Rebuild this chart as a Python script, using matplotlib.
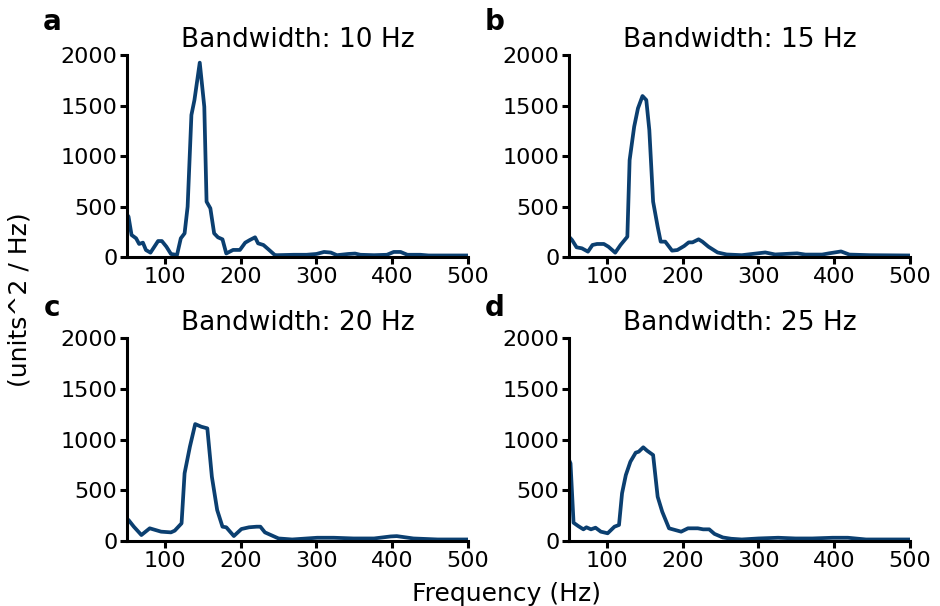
import matplotlib
matplotlib.use("Agg")
import matplotlib.pyplot as plt

# ---------------- data ----------------
titles = ["Bandwidth: 10 Hz", "Bandwidth: 15 Hz", "Bandwidth: 20 Hz", "Bandwidth: 25 Hz"]
panel_letters = ["a", "b", "c", "d"]

freq_a = [50, 52, 56, 62, 66, 71, 75, 81, 91, 96, 102, 108, 116, 121, 126, 130, 135, 139, 146,
          152, 155, 160, 165, 170, 176, 181, 190, 199, 206, 212, 219, 223, 230, 236, 245,
          248, 270, 287, 300, 310, 319, 327, 342, 351, 358, 376, 393, 402, 411, 420, 437, 448, 468, 500]
power_a = [420, 400, 218, 185, 129, 142, 69, 43, 158, 158, 102, 30, 20, 185, 234, 498, 1406, 1554, 1924,
           1488, 548, 482, 234, 195, 175, 35, 70, 70, 142, 168, 195, 135, 119, 80, 20,
           18, 22, 22, 30, 50, 44, 18, 30, 34, 22, 18, 22, 50, 50, 22, 22, 15, 15, 15]

freq_b = [50, 54, 60, 67, 75, 81, 87, 96, 102, 111, 118, 127, 130, 136, 141, 147, 152, 156, 161,
          167, 171, 177, 186, 193, 202, 208, 213, 221, 226, 234, 246, 258, 278, 309, 322, 340,
          351, 362, 384, 393, 409, 420, 447, 500]
power_b = [201, 168, 96, 86, 53, 119, 129, 129, 102, 43, 119, 201, 960, 1290, 1472, 1594, 1554, 1257, 548,
           300, 152, 152, 63, 69, 109, 145, 145, 175, 152, 102, 45, 25, 18, 45, 25, 32,
           36, 24, 24, 36, 55, 24, 18, 15]

freq_c = [50, 52, 59, 69, 80, 95, 108, 113, 122, 126, 133, 140, 148, 156, 162, 169, 176, 181,
          191, 201, 211, 221, 226, 232, 241, 250, 268, 301, 323, 349, 376, 398, 406, 428, 460, 500]
power_c = [215, 207, 141, 59, 125, 92, 85, 102, 174, 667, 929, 1152, 1126, 1110, 633, 305, 141, 135,
           49, 118, 135, 141, 141, 85, 55, 25, 15, 32, 32, 25, 25, 45, 48, 25, 15, 15]

freq_d = [50, 52, 56, 62, 69, 73, 79, 85, 92, 101, 110, 116, 120, 125, 131, 138, 142, 148, 153, 161,
          167, 173, 182, 198, 207, 220, 227, 235, 242, 253, 264, 278, 300, 326, 349, 371, 398, 418, 442, 500]
power_d = [800, 765, 180, 148, 115, 135, 115, 131, 92, 76, 141, 158, 470, 650, 781, 870, 880, 923, 890, 847,
           436, 289, 125, 92, 125, 125, 115, 115, 70, 35, 22, 15, 25, 32, 25, 25, 32, 32, 15, 15]

freqs = [freq_a, freq_b, freq_c, freq_d]
powers = [power_a, power_b, power_c, power_d]

x_ticks = [100, 200, 300, 400, 500]
y_ticks = [0, 500, 1000, 1500, 2000]

# ---------------- plot ----------------
plt.rcParams['font.family'] = ['DejaVu Sans']
line_color = "#0b3f70"

fig = plt.figure(figsize=(9.4, 6.06), dpi=100)
W, H = 940.0, 606.0
boxes = [(127, 55, 468, 257), (569, 55, 910, 257), (127, 338, 468, 541), (569, 338, 910, 541)]
letter_pos = [(52, 22), (495, 22), (52, 308), (495, 308)]

for i in range(4):
    x0, y0, x1, y1 = boxes[i]
    ax = fig.add_axes([x0 / W, 1 - y1 / H, (x1 - x0) / W, (y1 - y0) / H])
    ax.plot(freqs[i], powers[i], color=line_color, lw=2.7, solid_joinstyle='round')
    ax.set_xlim(50, 500)
    ax.set_ylim(0, 2000)
    ax.set_xticks(x_ticks)
    ax.set_yticks(y_ticks)
    ax.tick_params(labelsize=16, width=2.2, length=5, direction='out', pad=2)
    for s in ['top', 'right']:
        ax.spines[s].set_visible(False)
    for s in ['left', 'bottom']:
        ax.spines[s].set_linewidth(2.2)
    ax.set_title(titles[i], fontsize=19, pad=6)
    lx, ly = letter_pos[i]
    fig.text(lx / W, 1 - ly / H, panel_letters[i], fontsize=20, fontweight='bold',
             ha='center', va='center')

fig.text(507 / W, 1 - 594 / H, "Frequency (Hz)", fontsize=18, ha='center', va='center')
fig.text(20 / W, 1 - 300 / H, "(units^2 / Hz)", fontsize=18, ha='center', va='center',
         rotation=90)

fig.savefig("out.png", dpi=100)
